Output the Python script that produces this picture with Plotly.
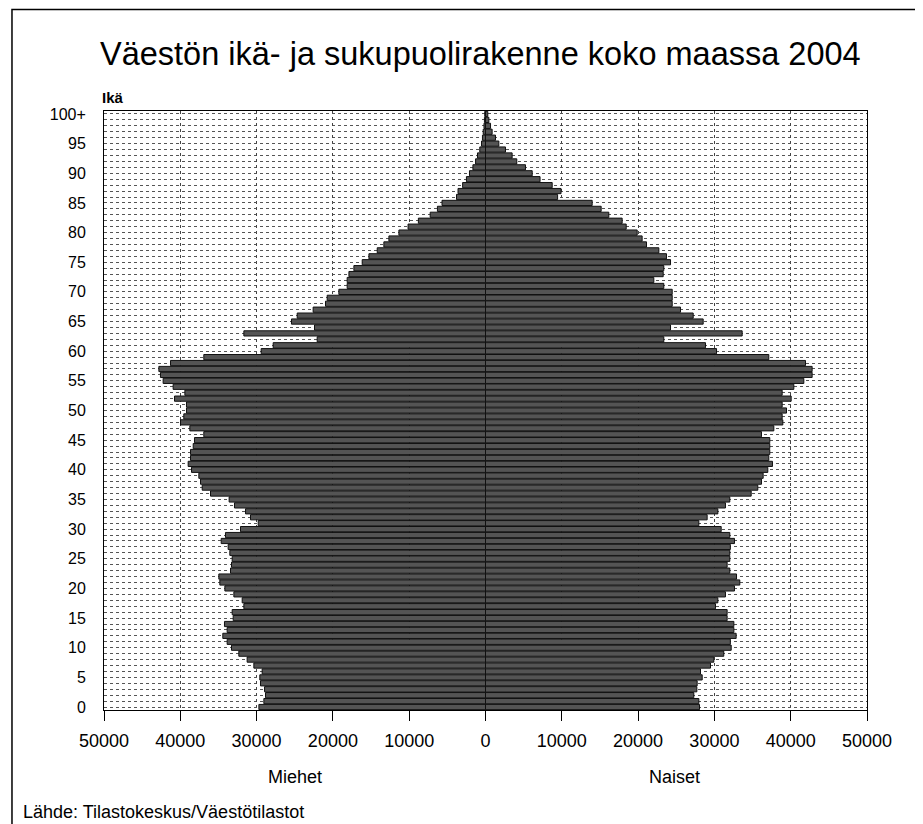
import plotly.graph_objects as go

# Age groups 0..100 (100 = 100+)
ages = list(range(0, 101))

miehet = [
    29700, 29050, 28830, 28960, 29490, 29580, 29270, 30360, 31240, 32330,
    33290, 33860, 34430, 33860, 34210, 33070, 33200, 31670, 31890, 32980,
    34160, 34820, 34950, 33420, 33290, 33200, 33510, 33730, 34640, 34080,
    32110, 29790, 30800, 31450, 32900, 33600, 36040, 37130, 37350, 37570,
    38530, 38970, 38660, 38660, 38310, 38140, 36920, 38750, 39970, 39540,
    39190, 39190, 40760, 39400, 40940, 42250, 42600, 42810, 41280, 36920,
    29400, 27830, 22060, 31670, 22410, 25430, 24680, 22590, 20970, 20750,
    19220, 18130, 18130, 17900, 17250, 16160, 15280, 14190, 13320, 12660,
    11350, 10150, 8800, 7250, 6300, 5700, 3800, 3600, 3000, 2500,
    2100, 1650, 1300, 1050, 750, 520, 400, 300, 200, 140,
    100,
]

naiset = [
    28050, 27960, 27300, 27700, 27740, 28400, 28180, 29490, 29920, 31230,
    32200, 32090, 32850, 32550, 32550, 31670, 31670, 30140, 30450, 31450,
    32630, 33330, 32900, 32020, 31670, 32020, 32020, 32090, 32630, 32020,
    30890, 27960, 29050, 30450, 31450, 32020, 34820, 35690, 36170, 36390,
    37000, 37610, 37130, 37260, 37260, 37260, 36170, 37790, 38970, 38880,
    39450, 38880, 40060, 38880, 40410, 41720, 42810, 42810, 41940, 37130,
    30280, 28830, 23370, 33640, 24250, 28530, 27220, 25560, 24470, 24470,
    24470, 23370, 22060, 23290, 23370, 24250, 23720, 22720, 21100, 20530,
    19880, 18440, 17910, 16160, 15160, 13980, 9450, 9900, 8740, 7150,
    6120, 5240, 4100, 3490, 2620, 1750, 1310, 870, 660, 440,
    300,
]

x_ticks = [-50000, -40000, -30000, -20000, -10000, 0, 10000, 20000, 30000, 40000, 50000]
x_labels = ["50000", "40000", "30000", "20000", "10000", "0",
            "10000", "20000", "30000", "40000", "50000"]
y_ticks = list(range(0, 101, 5))
y_labels = [str(a) for a in y_ticks[:-1]] + ["100+"]

FONT = "Arial, Liberation Sans, sans-serif"
BAR_FILL = "#545454"
BAR_EDGE = "#111111"

fig = go.Figure()

fig.add_trace(go.Bar(
    y=ages,
    x=[-v for v in miehet],
    orientation="h",
    name="Miehet",
    marker=dict(color=BAR_FILL, line=dict(color=BAR_EDGE, width=1)),
    showlegend=False,
))
fig.add_trace(go.Bar(
    y=ages,
    x=naiset,
    orientation="h",
    name="Naiset",
    marker=dict(color=BAR_FILL, line=dict(color=BAR_EDGE, width=1)),
    showlegend=False,
))

# page body has an 8px margin, so the figure is 8px smaller than the window
fig.update_layout(
    width=915,
    height=816,
    margin=dict(l=96, r=56, t=103, b=114),
    paper_bgcolor="white",
    plot_bgcolor="white",
    barmode="overlay",
    bargap=0.12,
    font=dict(family=FONT, color="black"),
    xaxis=dict(
        range=[-50000, 50000],
        tickvals=x_ticks,
        ticktext=x_labels,
        tickfont=dict(size=18, color="black"),
        ticks="outside",
        ticklen=10,
        tickcolor="black",
        showline=True,
        linecolor="black",
        linewidth=1,
        mirror=True,
        showgrid=True,
        gridcolor="#444444",
        griddash="dot",
        gridwidth=1,
        zeroline=True,
        zerolinecolor="black",
        zerolinewidth=1,
        ticklabelstandoff=4,
    ),
    yaxis=dict(
        range=[-0.5, 100.5],
        tickvals=y_ticks,
        ticktext=y_labels,
        tickfont=dict(size=16, color="black"),
        ticks="",
        showline=True,
        linecolor="black",
        linewidth=1,
        mirror=True,
        showgrid=True,
        gridcolor="#555555",
        griddash="dot",
        gridwidth=1,
        zeroline=False,
        ticklabelstandoff=14,
        minor=dict(dtick=1, tick0=0, showgrid=True, gridcolor="#555555",
                   griddash="dot", gridwidth=1),
    ),
    shapes=[
        dict(type="rect", xref="paper", yref="paper",
             x0=-0.1206, x1=1.0642, y0=-0.3, y1=1.1694,
             line=dict(color="black", width=1.5), layer="below"),
    ],
    annotations=[
        dict(text="Väestön ikä- ja sukupuolirakenne koko maassa 2004",
             xref="paper", yref="paper", x=0.4935, y=1.095,
             xanchor="center", yanchor="middle", showarrow=False,
             font=dict(size=32.5, family=FONT, color="black")),
        dict(text="<b>Ikä</b>", xref="paper", yref="paper", x=-0.005, y=1.023,
             xanchor="left", yanchor="middle", showarrow=False,
             font=dict(size=15, family=FONT, color="black")),
        dict(text="Miehet", xref="paper", yref="paper", x=0.2503, y=-0.112,
             xanchor="center", yanchor="middle", showarrow=False,
             font=dict(size=18, family=FONT, color="black")),
        dict(text="Naiset", xref="paper", yref="paper", x=0.748, y=-0.112,
             xanchor="center", yanchor="middle", showarrow=False,
             font=dict(size=18, family=FONT, color="black")),
        dict(text="Lähde: Tilastokeskus/Väestötilastot", xref="paper", yref="paper",
             x=-0.1088, y=-0.170, xanchor="left", yanchor="middle", showarrow=False,
             font=dict(size=18, family=FONT, color="black")),
    ],
)

fig.write_html("out.html")
